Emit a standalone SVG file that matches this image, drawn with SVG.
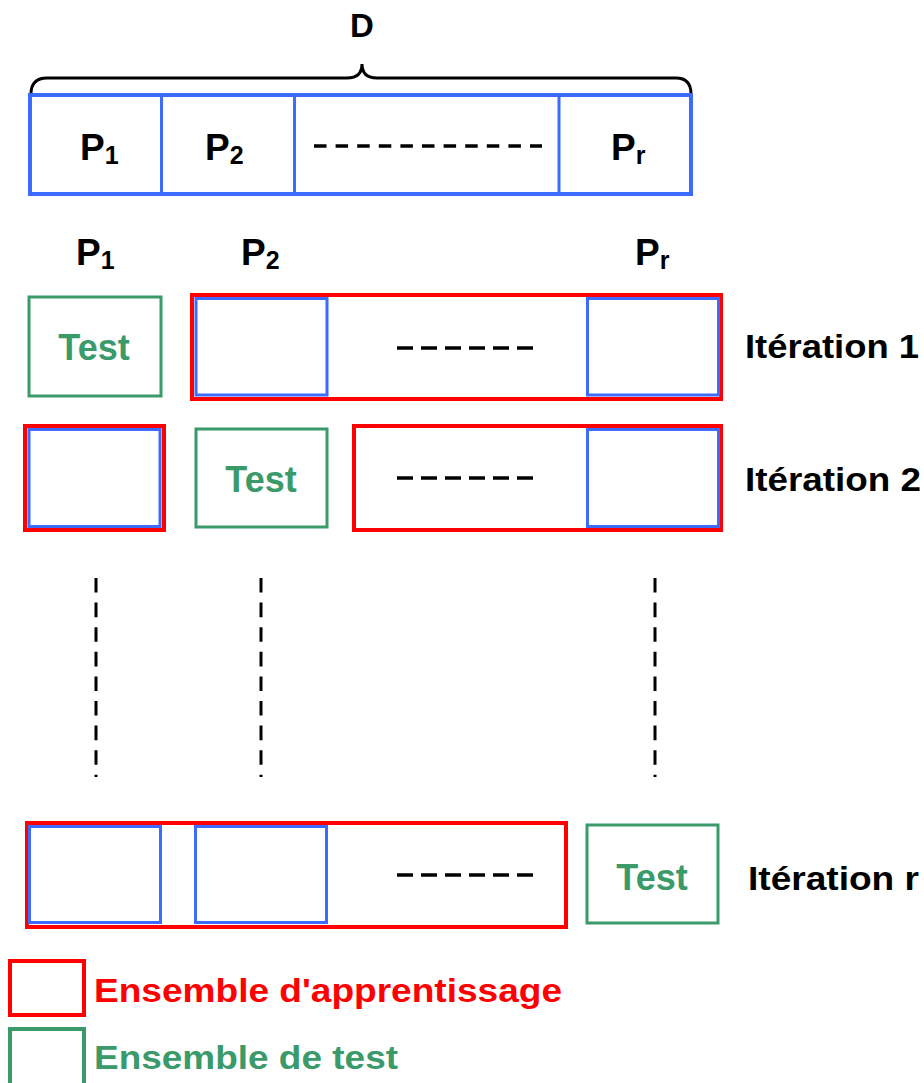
<svg xmlns="http://www.w3.org/2000/svg" width="924" height="1083" viewBox="0 0 924 1083">
<style>
text{font-family:"Liberation Sans",Arial,sans-serif;font-weight:bold}
.p{font-size:37px;fill:#000}
.sub{font-size:25px}
.it{font-size:34px;fill:#000}
.test{font-size:36px;fill:#3a9a6a;text-anchor:middle}
.red{fill:none;stroke:#ff0000;stroke-width:4}
.blue{fill:none;stroke:#3d6bff;stroke-width:3}
.green{fill:none;stroke:#3a9a6a;stroke-width:3}
.dash{stroke:#000;stroke-width:3.5;stroke-dasharray:16 8}
.vdash{stroke:#000;stroke-width:3;stroke-dasharray:14.6 10}
</style>
<g id="top">
<text x="362" y="37" class="p" text-anchor="middle" style="font-size:33px">D</text>
<path d="M31,94 Q31,78 47,78 L347,78 Q362,78 362,64 Q362,78 377,78 L676,78 Q691,78 691,94" fill="none" stroke="#000" stroke-width="3"/>
<rect x="30" y="95" width="661" height="99" fill="none" stroke="#3d6bff" stroke-width="4"/>
<line x1="161.5" y1="95" x2="161.5" y2="194" stroke="#3d6bff" stroke-width="3"/>
<line x1="294.5" y1="95" x2="294.5" y2="194" stroke="#3d6bff" stroke-width="3"/>
<line x1="559" y1="95" x2="559" y2="194" stroke="#3d6bff" stroke-width="3"/>
<text x="80" y="160" class="p">P<tspan class="sub" dy="4">1</tspan></text>
<text x="205" y="160" class="p">P<tspan class="sub" dy="4">2</tspan></text>
<text x="611" y="160" class="p">P<tspan class="sub" dy="4">r</tspan></text>
<line x1="314" y1="146" x2="542" y2="146" stroke="#000" stroke-width="3.5" stroke-dasharray="12.5 9.1"/>
</g>
<g id="labels">
<text x="76" y="265" class="p">P<tspan class="sub" dy="4">1</tspan></text>
<text x="241" y="265" class="p">P<tspan class="sub" dy="4">2</tspan></text>
<text x="635" y="265" class="p">P<tspan class="sub" dy="4">r</tspan></text>
</g>
<g id="iter1">
<rect x="29" y="297" width="132" height="99" class="green"/>
<text x="94" y="360" class="test">Test</text>
<rect x="192" y="295" width="529" height="104" class="red"/>
<rect x="196" y="298.5" width="131" height="96.5" class="blue"/>
<rect x="587.5" y="298.5" width="131" height="96.5" class="blue"/>
<line x1="397" y1="348" x2="533" y2="348" class="dash"/>
<text x="745" y="358" class="it" textLength="174" lengthAdjust="spacingAndGlyphs">Itération 1</text>
</g>
<g id="iter2">
<rect x="25" y="426" width="139" height="104" class="red"/>
<rect x="29" y="429.5" width="131" height="97" class="blue"/>
<rect x="196" y="429" width="131" height="98" class="green"/>
<text x="261" y="492" class="test">Test</text>
<rect x="354" y="426" width="367" height="104" class="red"/>
<rect x="587.5" y="429.5" width="131" height="97" class="blue"/>
<line x1="397" y1="478" x2="533" y2="478" class="dash"/>
<text x="745" y="491" class="it" textLength="176" lengthAdjust="spacingAndGlyphs">Itération 2</text>
</g>
<g id="dots">
<line x1="96" y1="578" x2="96" y2="777" class="vdash"/>
<line x1="261" y1="578" x2="261" y2="777" class="vdash"/>
<line x1="655" y1="578" x2="655" y2="777" class="vdash"/>
</g>
<g id="iterr">
<rect x="27" y="823" width="539" height="104" class="red"/>
<rect x="29.5" y="826.5" width="131" height="96" class="blue"/>
<rect x="195.5" y="826.5" width="131" height="96" class="blue"/>
<line x1="397" y1="875" x2="533" y2="875" class="dash"/>
<rect x="587" y="825" width="131" height="98" class="green"/>
<text x="652" y="890" class="test">Test</text>
<text x="748" y="890" class="it" textLength="171" lengthAdjust="spacingAndGlyphs">Itération r</text>
</g>
<g id="legend">
<rect x="10" y="961" width="74" height="54" class="red"/>
<text x="94" y="1002" style="font-size:34px;fill:#ff0000" textLength="468" lengthAdjust="spacingAndGlyphs">Ensemble d'apprentissage</text>
<rect x="10" y="1029" width="74" height="70" class="green" style="stroke-width:4"/>
<text x="94" y="1069" style="font-size:34px;fill:#3a9a6a" textLength="304" lengthAdjust="spacingAndGlyphs">Ensemble de test</text>
</g>
</svg>
